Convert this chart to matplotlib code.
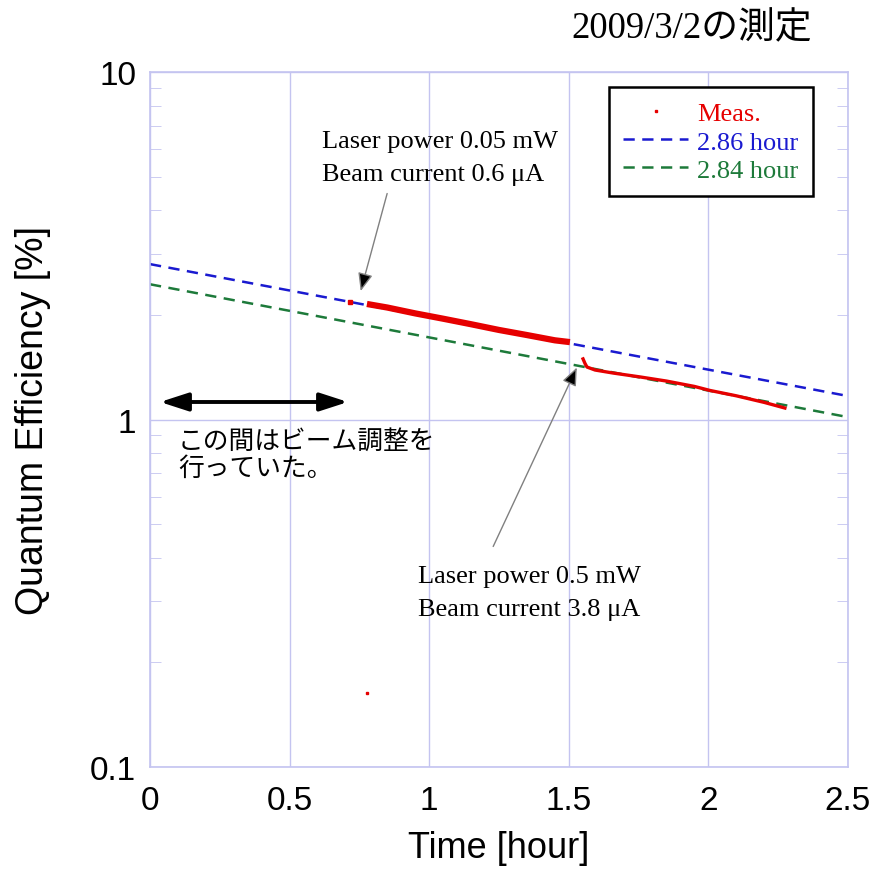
import matplotlib
matplotlib.use("Agg")
from matplotlib import pyplot as plt
from matplotlib.ticker import FixedLocator, LogLocator, NullFormatter
import numpy as np

meas_t1 = [0.716, 0.777, 0.85, 0.95, 1.05, 1.15, 1.25, 1.35, 1.45, 1.504]
meas_q1 = [2.18, 2.15, 2.10, 2.02, 1.95, 1.88, 1.81, 1.75, 1.69, 1.67]
meas_t2 = [1.551, 1.558, 1.565, 1.594, 1.66, 1.755, 1.85, 1.95, 2.006, 2.10, 2.20, 2.274]
meas_q2 = [1.494, 1.45, 1.416, 1.388, 1.36, 1.326, 1.29, 1.245, 1.212, 1.17, 1.12, 1.079]
stray_t = [0.777]
stray_q = [0.163]

# fitted lifetimes
fit_tau = [2.86, 2.84]
fit_q0 = [2.80, 2.45]
fit_labels = ["2.86 hour", "2.84 hour"]
fit_colors = ["#1a1ad0", "#1d7a3a"]

xticks = [0, 0.5, 1, 1.5, 2, 2.5]
yticks = [0.1, 1, 10]

grid_col = "#c4c4f0"
serif = ["Liberation Serif", "DejaVu Serif"]

fig = plt.figure(figsize=(8.86, 8.70), dpi=100)
ax = fig.add_axes([0.1693, 0.11724, 0.7878, 0.79885])

t = np.linspace(0, 2.5, 200)
for tau, q0, lab, c in zip(fit_tau, fit_q0, fit_labels, fit_colors):
    ax.plot(t, q0 * np.exp(-t / tau), color=c, lw=1.8, ls=(0, (4.5, 3)), label=lab, zorder=2)

red = "#e60000"
ax.plot(meas_t1[:1], meas_q1[:1], "s", color=red, ms=3, zorder=3)
ax.plot(meas_t1[1:], meas_q1[1:], color=red, lw=4.5, solid_capstyle="butt", zorder=3)
ax.plot(meas_t2, meas_q2, color=red, lw=2.4, zorder=3)
ax.plot(stray_t, stray_q, "s", color=red, ms=1.5, zorder=3)
ax.plot([], [], ls="none", marker="s", ms=1.5, color=red, label="Meas.")

ax.set_yscale("log")
ax.set_xlim(0, 2.5)
ax.set_ylim(0.1, 10)
ax.xaxis.set_major_locator(FixedLocator(xticks))
ax.set_xticklabels(["0", "0.5", "1", "1.5", "2", "2.5"])
ax.yaxis.set_major_locator(FixedLocator(yticks))
ax.set_yticklabels(["0.1", "1", "10"])
ax.yaxis.set_minor_locator(LogLocator(base=10, subs=np.arange(2, 10)))
ax.yaxis.set_minor_formatter(NullFormatter())

ax.grid(True, which="major", color=grid_col, lw=1)
for s in ax.spines.values():
    s.set_color(grid_col)
    s.set_linewidth(1.2)
ax.tick_params(which="both", direction="in", colors=grid_col, right=True, top=True,
               labelcolor="black", labelsize=24)
ax.tick_params(axis="x", pad=13)
ax.tick_params(axis="y", pad=10)
ax.tick_params(which="minor", length=8)
ax.tick_params(which="major", length=0)
for lbl in ax.get_xticklabels() + ax.get_yticklabels():
    lbl.set_family("Liberation Sans")

ax.set_xlabel("Time [hour]", fontsize=26, family="Liberation Sans", labelpad=10)
ax.set_ylabel("Quantum Efficiency [%]", fontsize=27, family="Liberation Sans", labelpad=28)

h, l = ax.get_legend_handles_labels()
order = [2, 0, 1]
leg = ax.legend([h[i] for i in order], [l[i] for i in order], loc="upper right",
                bbox_to_anchor=(0.95, 0.978), borderaxespad=0, fancybox=False,
                framealpha=1, edgecolor="black", prop={"family": serif, "size": 19},
                handlelength=2.45, handletextpad=0.35, borderpad=0.55, labelspacing=0.18)
leg.get_frame().set_linewidth(1.8)
for txt, c in zip(leg.get_texts(), [red] + fit_colors):
    txt.set_color(c)

# annotations
head = "-|>,head_length=1.1,head_width=0.45"
ax.annotate("", xy=(0.752, 2.30), xytext=(0.852, 4.55),
            arrowprops=dict(arrowstyle=head, ec="#808080", fc="black", lw=1))
ax.text(0.616, 6.8, "Laser power 0.05 mW\nBeam current 0.6 μA", family=serif,
        fontsize=19, va="top", ha="left", linespacing=1.65)
ax.annotate("", xy=(1.533, 1.435), xytext=(1.225, 0.424),
            arrowprops=dict(arrowstyle=head, ec="#808080", fc="black", lw=1))
ax.text(0.960, 0.382, "Laser power 0.5 mW\nBeam current 3.8 μA", family=serif,
        fontsize=19, va="top", ha="left", linespacing=1.65)
ax.annotate("", xy=(0.036, 1.123), xytext=(0.709, 1.123),
            arrowprops=dict(arrowstyle="<|-|>,head_length=1.7,head_width=0.55",
                            color="black", lw=2.8, shrinkA=0, shrinkB=0))
ax.text(0.100, 0.945, "この間はビーム調整を\n行っていた。", family=["Noto Sans CJK JP"],
        fontsize=18.5, va="top", ha="left", linespacing=1.05)

fig.text(0.645, 0.967, "2009/3/2の測定", family=["Liberation Serif", "Noto Sans CJK JP"],
         fontsize=26.5, va="center", ha="left")

fig.savefig("out.png", dpi=100)
